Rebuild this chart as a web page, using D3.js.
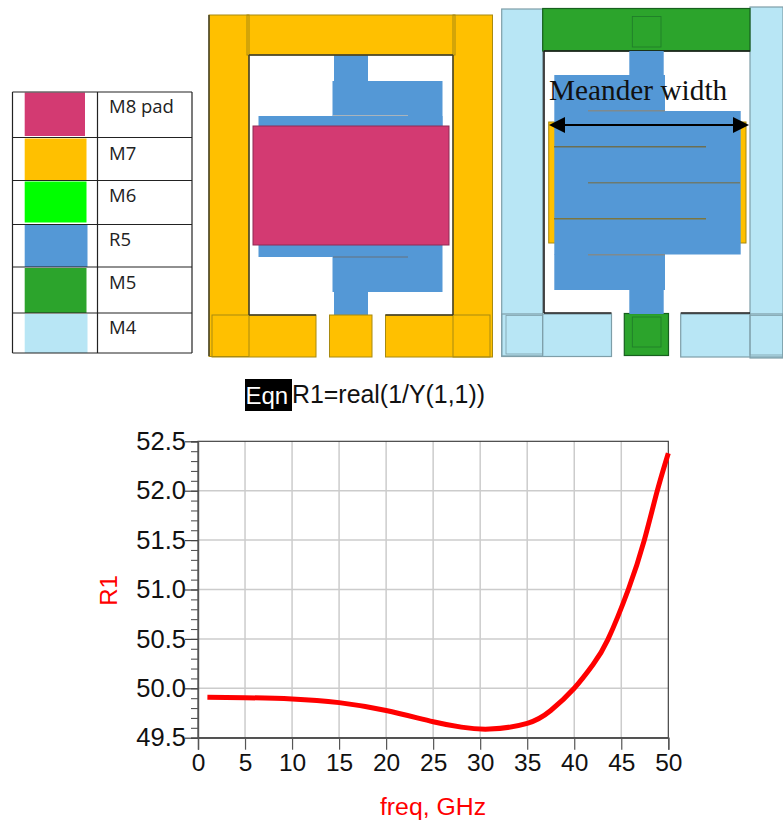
<!DOCTYPE html>
<html><head><meta charset="utf-8">
<script src="https://cdnjs.cloudflare.com/ajax/libs/d3/7.8.5/d3.min.js"></script>
<style>html,body{margin:0;padding:0;background:#fff;overflow:hidden}svg{display:block}</style>
</head><body><svg id="c" width="783" height="821"></svg>
<script>
// ---- chart data ----
const freqGHz = [1,5,10,15,20,25,28,31,35,37.5,40,42,43.56,45.75,47.45,48.83,50];
const r1Ohm   = [49.91,49.905,49.892,49.855,49.775,49.662,49.607,49.587,49.645,49.775,50.0,50.24,50.49,51.0,51.5,52.0,52.38];
const xTicks = [0,5,10,15,20,25,30,35,40,45,50];
const yTicks = [49.5,50,50.5,51,51.5,52,52.5];
const yMinorTicks = d3.range(49.5,52.501,0.1);

// ---- legend ----
const legendNames = ["M8 pad","M7","M6","R5","M5","M4"];
const legendColors = ["#D33A72","#FFC000","#00FF00","#5498D6","#2CA42C","#B8E6F5"];
const legendRows = [92,137.5,180.5,224.5,267,313,353];
const legendSwatchY = [[92.5,136],[138.5,180],[181.5,222.5],[225,267],[268,313],[314,353]];
const legendSwatchX = [[24.7,85],[24.7,86.5],[24.7,86.5],[24.7,87.5],[24.7,86.5],[24.7,87.5]];
const legendBaselines = [113,159.5,202,246,288.5,334];

// ---- layout drawings: [x0,y0,x1,y1] in picture units ----
const leftYellow = [[209,15,249,356.5],[453,15,492.5,357],[247,15,455,55],[212,315,316,357],[329.5,315,372,357],[385.5,315,490,357]];
const leftBlue = [[334,55,368,82],[332.5,81,442.5,126],[258.5,116,442.5,126],[258.5,245,442.5,257],[332.5,257,442.5,292],[334,292,368,315]];
const leftPink = [[253,126,449,245]];
const leftSlits = [[333,115.5,408,115.5,"#A9B4BC"],[333,257,408,257,"#66707A"]];
const leftEdges = [[249,55,249,315],[453,55,453,315],[249,315,316,315],[385.5,315,453,315],[209,15,209,356],[249,55,453,55]];

const rightCyan = [[501.7,9,542.7,356],[750,7,783,358],[501.7,314,611.5,356.5],[680.7,314,783,357]];
const rightCyanInner = [[506,315.5,542.7,354],[750,315.5,783,355]];
const rightGreen = [[542.7,8.5,750,51],[624.3,313.5,668.5,355.5]];
const rightVias = [[632.3,16.5,661,47],[632.3,317,661,347]];
const rightYellow = [[548.7,122,746,243]];
const rightBlue = [[629.3,51,663.7,76],[554.3,75,665,111],[554.3,111,740.7,254.5],[554.3,254,665,290],[629.3,290,663.7,314]];
const rightSlits = [[588,110.7,665,110.7,"#7F8A8E"],[554,146.7,706,146.7,"#6C6F52"],[588,182.7,740,182.7,"#6C7A70"],[554,218.7,706,218.7,"#7C7640"],[588,254.7,665,254.7,"#7F8A8E"]];
const rightEdges = [[544,51,544,313],[544,51,750,51],[544,313,611.5,313],[680.7,313,750,313]];

const svg = d3.select("#c");
const px = d3.scaleIdentity(), py = d3.scaleIdentity();

function rects(data, fill, stroke, sw){
  svg.append("g").selectAll("rect").data(data).join("rect")
    .attr("x",d=>px(d[0])).attr("y",d=>py(d[1]))
    .attr("width",d=>px(d[2])-px(d[0])).attr("height",d=>py(d[3])-py(d[1]))
    .attr("fill",fill).attr("stroke",stroke).attr("stroke-width",sw);
}
function lines(data, color, sw){
  svg.append("g").selectAll("line").data(data).join("line")
    .attr("x1",d=>px(d[0])).attr("y1",d=>py(d[1])).attr("x2",d=>px(d[2])).attr("y2",d=>py(d[3]))
    .attr("stroke",d=>d[4]||color).attr("stroke-width",sw);
}

// legend table
svg.append("g").selectAll("rect").data(legendNames).join("rect")
  .attr("x",(d,i)=>legendSwatchX[i][0]).attr("y",(d,i)=>legendSwatchY[i][0])
  .attr("width",(d,i)=>legendSwatchX[i][1]-legendSwatchX[i][0])
  .attr("height",(d,i)=>legendSwatchY[i][1]-legendSwatchY[i][0])
  .attr("fill",(d,i)=>legendColors[i]);
lines(legendRows.map(y=>[12.5,y,192,y]),"#222",1.2);
lines([[12.5,92,12.5,353],[97.5,92,97.5,353],[192,92,192,353]],"#222",1.2);
svg.append("g").selectAll("text").data(legendNames).join("text")
  .attr("x",109).attr("y",(d,i)=>legendBaselines[i])
  .attr("font-family","'Open Sans',sans-serif").attr("font-size",18.5).attr("fill","#222").text(d=>d);

// left layout
rects(leftBlue,"#5498D6","none",0);
lines(leftSlits,null,1.2);
rects(leftYellow,"#FFC000","none",0);
rects(leftYellow,"none","#A88A10",1);
lines(leftEdges,"#3A3A2A",1.4);
rects(leftPink,"#D33A72","#8E2A55",1);

// right layout
rects(rightCyan,"#B8E6F5","none",0);
rects(rightCyan,"none","#7E9EA8",1.2);
rects(rightCyanInner,"none","#7E9EA8",0.8);
rects(rightGreen,"#2CA42C","#17601E",1.2);
rects(rightVias,"none","#1E7A2A",0.8);
lines(rightEdges,"#1b1b1b",1.6);
rects(rightYellow,"#FFC000","#A88A10",1);
rects(rightBlue,"#5498D6","none",0);
lines(rightSlits,null,1.5);

// meander annotation
svg.append("text").attr("x",549).attr("y",100).attr("font-family","'Liberation Serif',serif")
  .attr("font-size",29.3).attr("fill","#111").text("Meander width");
const arrowX=[549,749], arrowY=125;
lines([[arrowX[0]+10,arrowY,arrowX[1]-10,arrowY]],"#000",2);
svg.append("g").selectAll("path").data([1,-1]).join("path")
  .attr("d",(s)=>{const x=s>0?arrowX[0]:arrowX[1];return `M${x},${arrowY}L${x+s*16},${arrowY-8}L${x+s*16},${arrowY+8}Z`;})
  .attr("fill","#000");

// equation
svg.append("rect").attr("x",245).attr("y",379).attr("width",47).attr("height",32).attr("fill","#000");
svg.append("text").attr("x",245.5).attr("y",404).attr("font-family","'Liberation Sans',sans-serif").attr("font-size",24).attr("fill","#fff").text("Eqn");
svg.append("text").attr("x",292).attr("y",403).attr("font-family","'Liberation Sans',sans-serif").attr("font-size",24.9).attr("fill","#111").text("R1=real(1/Y(1,1))");

// chart
const x = d3.scaleLinear().domain([0,50]).range([198,668.3]);
const y = d3.scaleLinear().domain([49.5,52.5]).range([737.7,441.3]);
const font = "'Liberation Sans',sans-serif";

const grid = svg.append("g").attr("stroke","#CCCCCC").attr("stroke-width",1.5);
grid.selectAll(".v").data(xTicks.slice(1,-1)).join("line").attr("class","v")
  .attr("x1",d=>x(d)).attr("x2",d=>x(d)).attr("y1",y.range()[1]).attr("y2",y.range()[0]);
grid.selectAll(".h").data(yTicks.slice(1,-1)).join("line").attr("class","h")
  .attr("y1",d=>y(d)).attr("y2",d=>y(d)).attr("x1",x.range()[0]).attr("x2",x.range()[1]);

svg.append("rect").attr("x",x.range()[0]).attr("y",y.range()[1])
  .attr("width",x.range()[1]-x.range()[0]).attr("height",y.range()[0]-y.range()[1])
  .attr("fill","none").attr("stroke","#333").attr("stroke-width",1.1);

const yMinor = svg.append("g").attr("transform",`translate(${x.range()[0]},0)`)
  .call(d3.axisLeft(y).tickValues(yMinorTicks).tickSize(7).tickFormat(""));
yMinor.selectAll("line").attr("stroke","#555").attr("stroke-width",1.1);
yMinor.select(".domain").attr("stroke","#555").attr("stroke-width",1.4);

const yAxis = svg.append("g").attr("transform",`translate(${x.range()[0]},0)`)
  .call(d3.axisLeft(y).tickValues(yTicks).tickSize(13).tickPadding(0).tickFormat(d3.format(".1f")));
yAxis.select(".domain").remove();
yAxis.selectAll("line").attr("stroke","#444").attr("stroke-width",1.2);
yAxis.selectAll("text").attr("font-family",font).attr("font-size",25.5).attr("fill","#111").attr("x",-12);

const xAxis = svg.append("g").attr("transform",`translate(0,${y.range()[0]})`)
  .call(d3.axisBottom(x).tickValues(xTicks).tickSize(12).tickPadding(4).tickFormat(d3.format("d")));
xAxis.select(".domain").attr("stroke","#555").attr("stroke-width",1.4);
xAxis.selectAll("line").attr("stroke","#555").attr("stroke-width",1.2);
xAxis.selectAll("text").attr("font-family",font).attr("font-size",24.5).attr("fill","#111");

svg.append("path").datum(freqGHz.map((f,i)=>[f,r1Ohm[i]]))
  .attr("fill","none").attr("stroke","#FF0000").attr("stroke-width",5).attr("stroke-linejoin","round")
  .attr("d",d3.line().x(d=>x(d[0])).y(d=>y(d[1])).curve(d3.curveNatural));

svg.append("text").attr("transform","translate(117,590.5) rotate(-90)").attr("text-anchor","middle")
  .attr("font-family",font).attr("font-size",24).attr("fill","#FF0000").text("R1");
svg.append("text").attr("x",433).attr("y",815).attr("text-anchor","middle")
  .attr("font-family",font).attr("font-size",24.8).attr("fill","#FF0000").text("freq, GHz");
</script></body></html>
